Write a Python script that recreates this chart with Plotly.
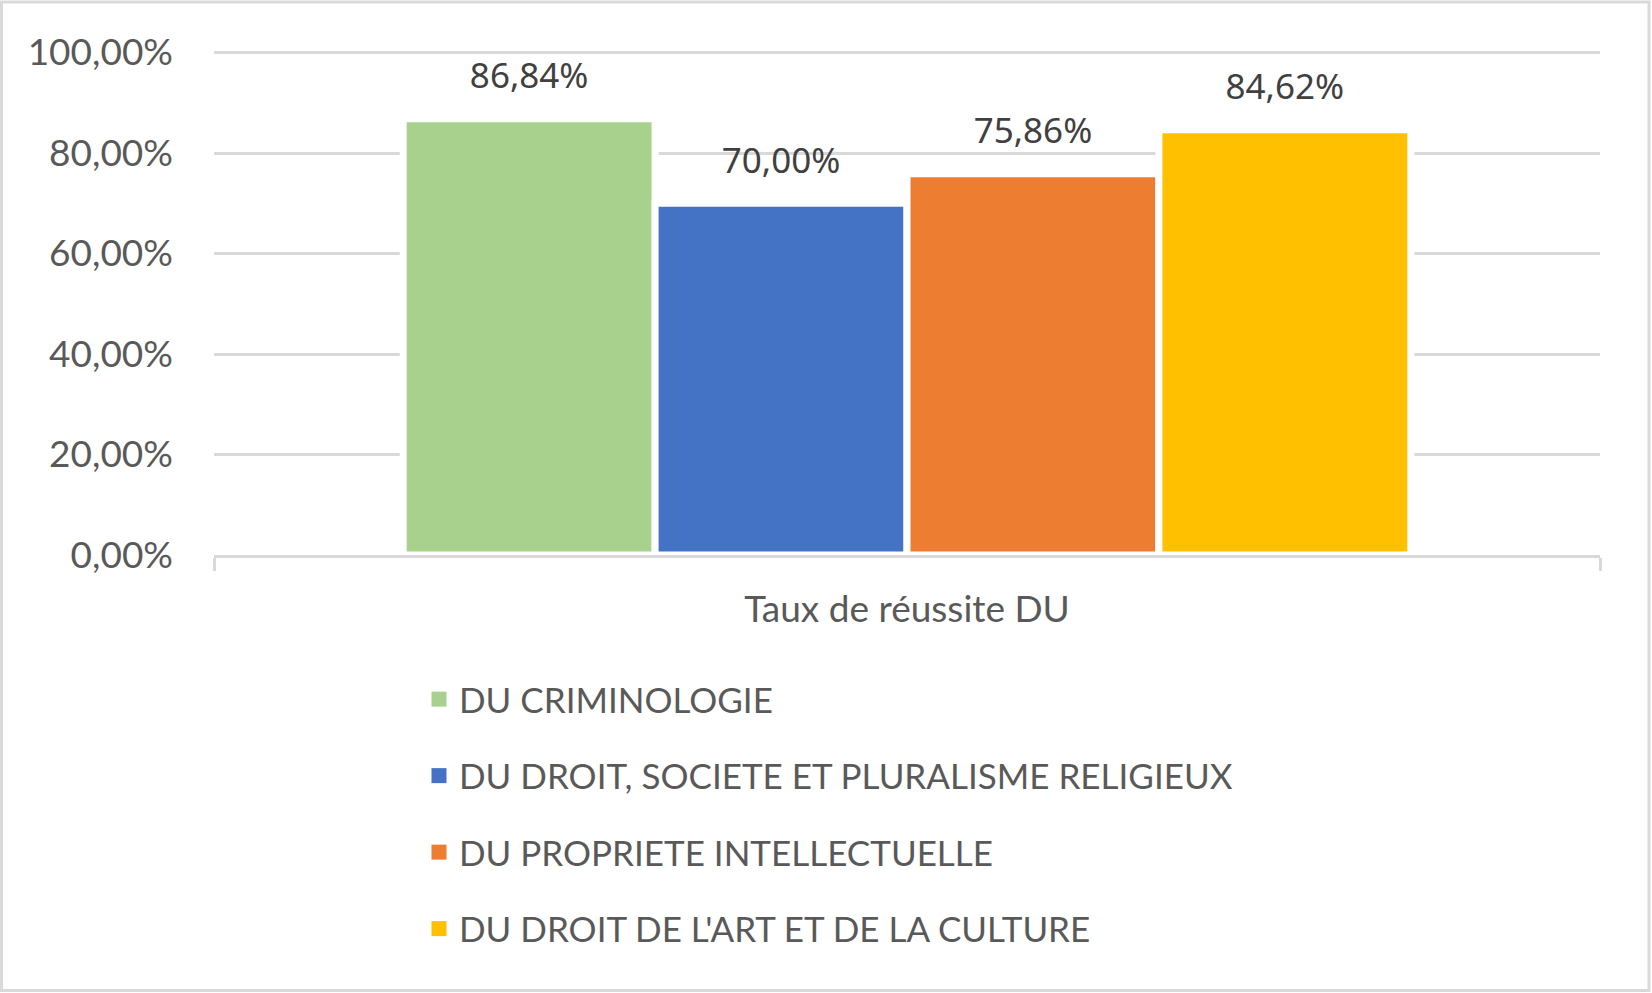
import plotly.graph_objects as go

category = ["Taux de réussite DU"]
series_names = [
    "DU CRIMINOLOGIE",
    "DU DROIT, SOCIETE ET PLURALISME RELIGIEUX",
    "DU PROPRIETE INTELLECTUELLE",
    "DU DROIT DE L'ART ET DE LA CULTURE",
]
series_values = [0.8684, 0.7000, 0.7586, 0.8462]
series_colors = ["#A9D18E", "#4472C4", "#ED7D31", "#FFC000"]
y_ticks = [0, 0.2, 0.4, 0.6, 0.8, 1.0]

W, H = 1652, 993
L, R, T, B = 214, 52, 49.5, 438
PW, PH = W - L - R, H - T - B
Y_MAX = 1.005

BARGAP = 0.273
TICK_FONT = "Lato"
LABEL_FONT = "Noto Sans"

fig = go.Figure()
for i, (name, val, col) in enumerate(zip(series_names, series_values, series_colors)):
    fig.add_trace(go.Bar(
        x=category, y=[val], name=name,
        marker=dict(color=col, line=dict(color="white", width=7)),
        offsetgroup=f"o{i}", showlegend=False,
        hoverinfo="skip",
    ))
for i, (name, val) in enumerate(zip(series_names, series_values)):
    fig.add_trace(go.Scatter(
        x=category, y=[val], mode="markers+text",
        marker=dict(size=33, color="rgba(0,0,0,0)"),
        text=[f"{val*100:.2f}%".replace(".", ",")],
        textposition="top center",
        textfont=dict(family=LABEL_FONT, size=35, color="#404040"),
        offsetgroup=f"o{i}", showlegend=False, hoverinfo="skip",
        cliponaxis=False,
    ))
# legend entries (square swatches like the original)
for i, (name, col) in enumerate(zip(series_names, series_colors)):
    fig.add_trace(go.Scatter(
        x=[None], y=[None], mode="markers", name=name,
        marker=dict(symbol="square", size=15, color=col),
        legendgroup=f"g{i}", showlegend=True, hoverinfo="skip",
    ))

# outer chart border
fig.add_shape(
    type="rect", xref="paper", yref="paper",
    x0=(1.5 - L) / PW, x1=(W - 3 - L) / PW,
    y0=(T + PH - (H - 2)) / PH, y1=(T + PH - 1.5) / PH,
    line=dict(color="#D9D9D9", width=3), layer="below",
)

fig.update_layout(
    width=W, height=H,
    margin=dict(l=L, r=R, t=T, b=B, pad=0),
    paper_bgcolor="white", plot_bgcolor="white",
    barmode="group", bargap=BARGAP, bargroupgap=0,
    scattermode="group", scattergap=BARGAP,
    separators=", ",
    showlegend=True,
    legend=dict(
        orientation="v", x=(419 - L) / PW, xanchor="left",
        y=(T + PH - 670) / PH, yanchor="top",
        font=dict(family=TICK_FONT, size=35, color="#595959"),
        tracegroupgap=28, itemsizing="trace",
        bgcolor="rgba(0,0,0,0)",
    ),
    xaxis=dict(
        type="category", showgrid=False,
        showline=True, linecolor="#D9D9D9", linewidth=3,
        ticks="outside", tickson="boundaries", ticklen=13,
        tickcolor="#D9D9D9", tickwidth=3,
        tickfont=dict(family=TICK_FONT, size=37, color="#595959"),
        ticklabelstandoff=20,
        zeroline=False, fixedrange=True,
    ),
    yaxis=dict(
        range=[0, Y_MAX], tickvals=y_ticks, tickformat=".2%",
        showgrid=True, gridcolor="#D9D9D9", gridwidth=3,
        showline=False, zeroline=False, ticks="",
        tickfont=dict(family=TICK_FONT, size=37, color="#595959"),
        ticklabelstandoff=40, fixedrange=True,
    ),
)

fig.write_html(
    "out.html",
    config={"displayModeBar": False},
    post_script="document.body.style.margin='0';",
)
